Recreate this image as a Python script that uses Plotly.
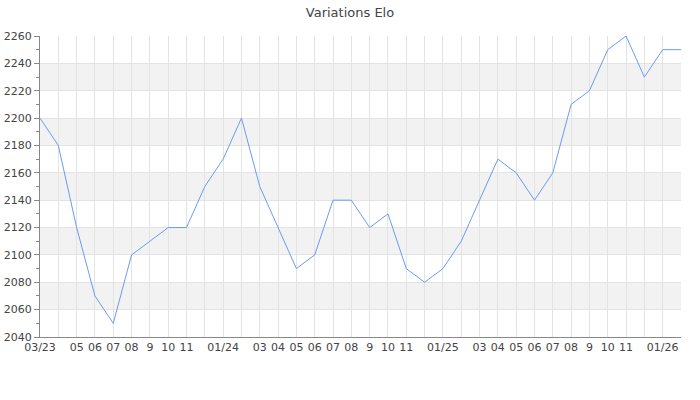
import plotly.graph_objects as go

# Monthly Elo, 03/23 -> 02/26
months = [
    "03/23", "04/23", "05/23", "06/23", "07/23", "08/23", "09/23", "10/23", "11/23", "12/23",
    "01/24", "02/24", "03/24", "04/24", "05/24", "06/24", "07/24", "08/24", "09/24", "10/24",
    "11/24", "12/24", "01/25", "02/25", "03/25", "04/25", "05/25", "06/25", "07/25", "08/25",
    "09/25", "10/25", "11/25", "12/25", "01/26", "02/26",
]
elo = [
    2200, 2180, 2120, 2070, 2050, 2100, 2110, 2120, 2120, 2150,
    2170, 2200, 2150, 2120, 2090, 2100, 2140, 2140, 2120, 2130,
    2090, 2080, 2090, 2110, 2140, 2170, 2160, 2140, 2160, 2210,
    2220, 2250, 2260, 2230, 2250, 2250,
]
tick_labels = [
    "03/23", "", "05", "06", "07", "08", "9", "10", "11", "",
    "01/24", "", "03", "04", "05", "06", "07", "08", "9", "10",
    "11", "", "01/25", "", "03", "04", "05", "06", "07", "08",
    "9", "10", "11", "", "01/26", "",
]
bands = [(2060, 2080), (2100, 2120), (2140, 2160), (2180, 2200), (2220, 2240)]

x = list(range(len(months)))

fig = go.Figure(
    go.Scatter(
        x=x,
        y=elo,
        mode="lines",
        line=dict(color="#6b9cf0", width=1),
        text=months,
        hoverinfo="text+y",
    )
)

for lo, hi in bands:
    fig.add_hrect(y0=lo, y1=hi, fillcolor="#f2f2f2", line_width=0, layer="below")

fig.update_layout(
    title=dict(text="Variations Elo", x=0.5, y=0.97, xanchor="center", yanchor="middle",
               font=dict(size=13, color="#444")),
    font=dict(family="DejaVu Sans, sans-serif", size=11, color="#444"),
    paper_bgcolor="white",
    plot_bgcolor="white",
    width=700,
    height=400,
    margin=dict(l=40, r=19, t=36, b=63),
    showlegend=False,
    xaxis=dict(
        range=[0, len(months) - 1],
        tickvals=x,
        ticktext=tick_labels,
        tickangle=0,
        showgrid=True,
        gridcolor="#e3e3e3",
        gridwidth=1,
        showline=True,
        linecolor="#888",
        linewidth=1,
        ticks="",
        zeroline=False,
        automargin=False,
    ),
    yaxis=dict(
        range=[2040, 2260],
        dtick=20,
        showgrid=True,
        gridcolor="#e3e3e3",
        showline=True,
        linecolor="#888",
        ticks="outside",
        ticklen=5,
        tickcolor="#888",
        zeroline=False,
        automargin=False,
        minor=dict(ticks="outside", dtick=10, ticklen=3, tickcolor="#888", showgrid=False),
    ),
)

# drop the default page margin so the figure sits at the window origin
fig.write_html(
    "out.html",
    config={"displayModeBar": False},
    post_script="document.body.style.margin='0';",
)
